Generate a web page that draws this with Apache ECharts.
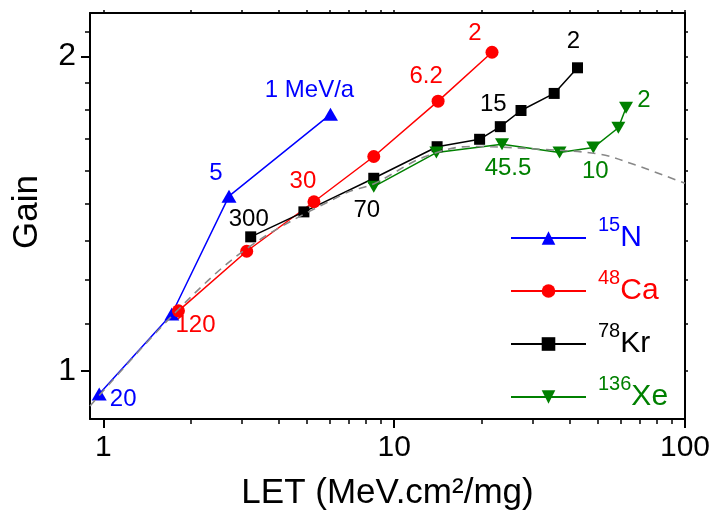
<!DOCTYPE html>
<html>
<head>
<meta charset="utf-8">
<script src="https://cdn.jsdelivr.net/npm/echarts@6/dist/echarts.min.js"></script>
<style>
html,body{margin:0;padding:0;background:#fff;}
#chart{width:715px;height:514px;}
</style>
</head>
<body>
<div id="chart"></div>
<script>
// ---- data ----
const nLET  = [0.968, 1.72, 2.705, 6.04];
const nGain = [0.951, 1.134, 1.470, 1.760];
const nTags = ['20', '', '5', '1 MeV/a'];

const caLET  = [1.813, 3.112, 5.30, 8.51, 14.16, 21.7];
const caGain = [1.142, 1.302, 1.452, 1.604, 1.812, 2.018];
const caTags = ['120', '', '30', '', '6.2', '2'];

const krLET  = [3.212, 4.894, 8.51, 14.05, 19.67, 23.17, 27.3, 35.5, 42.7];
const krGain = [1.344, 1.420, 1.529, 1.639, 1.666, 1.713, 1.775, 1.843, 1.950];
const krTags = ['300', '', '70', '', '', '15', '', '', '2'];

const xeLET  = [8.51, 13.97, 23.49, 37.03, 48.4, 59.0, 62.7];
const xeGain = [1.501, 1.618, 1.648, 1.618, 1.636, 1.709, 1.786];
const xeTags = ['', '', '45.5', '', '10', '', '2'];

const fitLET  = [0.9, 1.775, 3.164, 6.81, 8.5, 12.6, 18.3, 31.8, 51.1, 67.3, 100];
const fitGain = [0.926, 1.139, 1.314, 1.480, 1.510, 1.601, 1.640, 1.630, 1.612, 1.575, 1.512];

const seriesNames = ['15N', '48Ca', '78Kr', '136Xe'];
const xMajorTicks = [1, 10, 100];
const xMinorTicks = [2, 3, 4, 5, 6, 7, 8, 9, 20, 30, 40, 50, 60, 70, 80, 90];
const yMajorTicks = [1, 2];
const yMinorTicks = [1.1111, 1.2222, 1.3333, 1.4444, 1.5556, 1.6667, 1.7778, 1.8889, 2.1111];

// ---- styling ----
const FONT = '"Liberation Sans", Arial, sans-serif';
const XMIN = 0.9, XMAX = 100, YMIN = 0.9, YMAX = 2.2;
const tagOffsets = {
  '15N':  [[24, 5], null, [-13, -23], [-21, -24]],
  '48Ca': [[17, 15], null, [-11, -20], null, [-12, -25], [-17, -19]],
  '78Kr': [[-2, -17], null, [-7, 32], null, null, [-7, -22], null, null, [-4, -26]],
  '136Xe':[null, null, [6, 24], null, [2, 24], null, [18, -7]]
};
const downTri = 'path://M0,0L2,0L1,1.732Z';

function makeSeries(name, xs, ys, tags, color, symbol, size) {
  const offs = tagOffsets[name];
  return {
    name: name, type: 'line', xAxisIndex: 0, yAxisIndex: 0,
    symbol: symbol, symbolSize: size,
    lineStyle: {color: color, width: 1.5},
    itemStyle: {color: color},
    data: xs.map((x, i) => {
      const item = {value: [x, ys[i]]};
      if (tags[i]) {
        item.label = {show: true, position: 'inside', formatter: tags[i],
          offset: offs[i], color: color, fontSize: 24, fontFamily: FONT};
      }
      return item;
    }),
    z: 3
  };
}

function logAxis(pos, ticks, len, showLine, labelVals, extra) {
  const isX = pos === 'bottom' || pos === 'top';
  const ax = {
    type: 'log', logBase: 10, position: pos,
    min: isX ? XMIN : YMIN, max: isX ? XMAX : YMAX,
    axisLine: {show: showLine, onZero: false, lineStyle: {color: '#000', width: 2}},
    axisTick: {show: true, inside: false, length: len, customValues: ticks,
      lineStyle: {color: '#000', width: len > 6 ? 2 : 1.5}},
    axisLabel: labelVals ? {show: true, customValues: labelVals, color: '#000',
      fontSize: isX ? 30 : 32, fontFamily: FONT, margin: 14} : {show: false},
    splitLine: {show: false},
    minorTick: {show: false},
    minorSplitLine: {show: false}
  };
  return Object.assign(ax, extra || {});
}

const legendRich = {
  nS: {fontSize: 20, color: '#0000FF', verticalAlign: 'top', lineHeight: 18, padding: [0, 0, 0, 7], fontFamily: FONT},
  nB: {fontSize: 30, color: '#0000FF', verticalAlign: 'middle', lineHeight: 46, fontFamily: FONT},
  cS: {fontSize: 20, color: '#FF0000', verticalAlign: 'top', lineHeight: 18, padding: [0, 0, 0, 7], fontFamily: FONT},
  cB: {fontSize: 30, color: '#FF0000', verticalAlign: 'middle', lineHeight: 46, fontFamily: FONT},
  kS: {fontSize: 20, color: '#000000', verticalAlign: 'top', lineHeight: 18, padding: [0, 0, 0, 7], fontFamily: FONT},
  kB: {fontSize: 30, color: '#000000', verticalAlign: 'middle', lineHeight: 46, fontFamily: FONT},
  xS: {fontSize: 20, color: '#008000', verticalAlign: 'top', lineHeight: 18, padding: [0, 0, 0, 7], fontFamily: FONT},
  xB: {fontSize: 30, color: '#008000', verticalAlign: 'middle', lineHeight: 46, fontFamily: FONT}
};
const legendKey = {'15N': 'n', '48Ca': 'c', '78Kr': 'k', '136Xe': 'x'};

const chart = echarts.init(document.getElementById('chart'), null, {renderer: 'canvas'});
chart.setOption({
  animation: false,
  backgroundColor: '#fff',
  textStyle: {fontFamily: FONT},
  grid: {left: 90, right: 30, top: 13, bottom: 95, containLabel: false, outerBoundsMode: 'none'},
  xAxis: [
    logAxis('bottom', xMajorTicks, 9, true, xMajorTicks, {
      name: 'LET (MeV.cm²/mg)', nameLocation: 'middle', nameGap: 57,
      nameTextStyle: {fontSize: 35, color: '#000', fontFamily: FONT}
    }),
    logAxis('bottom', xMinorTicks, 5, false, null),
    logAxis('top', xMajorTicks.concat(xMinorTicks), 3, true, null)
  ],
  yAxis: [
    logAxis('left', yMajorTicks, 9, true, yMajorTicks, {
      name: 'Gain', nameLocation: 'middle', nameGap: 45,
      nameTextStyle: {fontSize: 35, color: '#000', fontFamily: FONT, padding: [0, 0, 0, 8]}
    }),
    logAxis('left', yMinorTicks, 5, false, null),
    logAxis('right', yMajorTicks.concat(yMinorTicks), 3, true, null)
  ],
  legend: {
    orient: 'vertical', left: 505, top: 210,
    itemWidth: 75, itemHeight: 17, itemGap: 15,
    data: seriesNames,
    formatter: function (name) {
      const k = legendKey[name];
      const m = name.match(/^(\d+)(\D+)$/);
      return '{' + k + 'S|' + m[1] + '}{' + k + 'B|' + m[2] + '}';
    },
    textStyle: {rich: legendRich}
  },
  series: [
    makeSeries('15N', nLET, nGain, nTags, '#0000FF', 'triangle', [15, 13]),
    makeSeries('48Ca', caLET, caGain, caTags, '#FF0000', 'circle', 13),
    makeSeries('78Kr', krLET, krGain, krTags, '#000000', 'rect', 11),
    makeSeries('136Xe', xeLET, xeGain, xeTags, '#008000', downTri, [14, 12]),
    {
      name: 'fit', type: 'line', xAxisIndex: 0, yAxisIndex: 0,
      symbol: 'none', smooth: 0.35,
      lineStyle: {color: '#888888', width: 1.6, type: [8, 6]},
      data: fitLET.map((x, i) => [x, fitGain[i]]),
      z: 4, silent: true
    }
  ]
});
</script>
</body>
</html>
